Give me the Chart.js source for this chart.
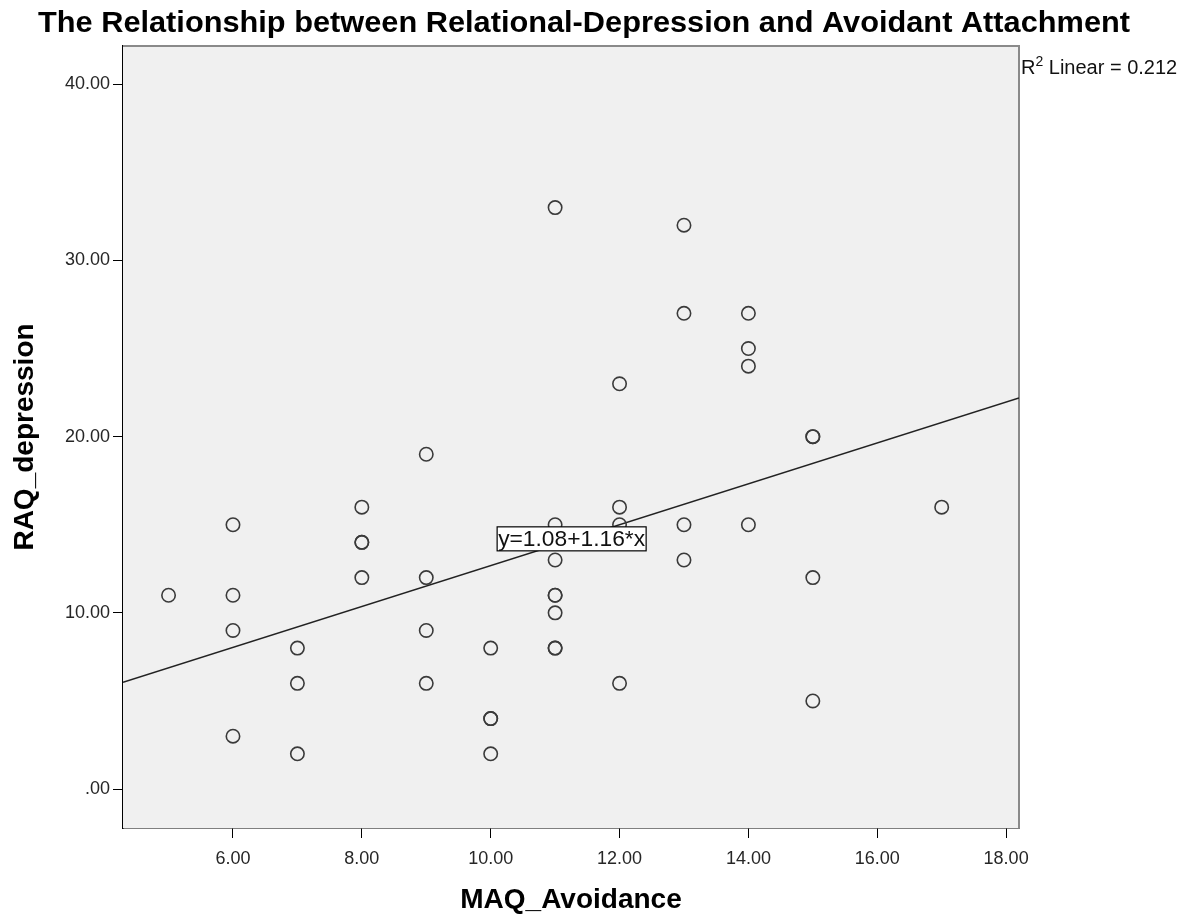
<!DOCTYPE html>
<html>
<head>
<meta charset="utf-8">
<script src="https://cdn.jsdelivr.net/npm/chart.js@4/dist/chart.umd.min.js"></script>
<style>
  html, body { margin: 0; padding: 0; background: #fff; }
  #wrap { width: 1200px; height: 919px; }
</style>
</head>
<body>
<div id="wrap"><canvas id="scatterChart" width="1200" height="919"></canvas></div>
<script>
// MAQ_Avoidance (x) vs RAQ_depression (y), one entry per respondent
const avoidance = [5, 6, 6, 6, 6, 7, 7, 7, 8, 8, 8, 8, 9, 9, 9, 9, 10, 10, 10, 10,
    11, 11, 11, 11, 11, 11, 11, 11, 12, 12, 12, 12, 13, 13, 13, 13, 14, 14, 14, 14,
    15, 15, 15, 15, 17];
const depression = [11, 15, 11, 9, 3, 8, 6, 2, 16, 14, 14, 12, 19, 12, 9, 6, 8, 4, 4, 2,
    33, 15, 13, 11, 11, 10, 8, 8, 23, 16, 15, 6, 32, 27, 15, 13, 27, 25, 24, 15,
    20, 20, 12, 5, 16];

// fit line as printed on the chart
const intercept = 1.08;
const slope = 1.16;
const rSquared = '0.212';

const xTickValues = [6, 8, 10, 12, 14, 16, 18];
const xTickLabels = ['6.00', '8.00', '10.00', '12.00', '14.00', '16.00', '18.00'];
const yTickValues = [0, 10, 20, 30, 40];
const yTickLabels = ['.00', '10.00', '20.00', '30.00', '40.00'];

const X_MIN = 4.293, X_MAX = 18.2;
const Y_MIN = -2.21, Y_MAX = 42.17;

const points = avoidance.map((x, i) => ({ x: x, y: depression[i] }));
const fitLine = [X_MIN, X_MAX].map(x => ({ x: x, y: intercept + slope * x }));

const FONT = '"Liberation Sans", Arial, sans-serif';

// plot background + grey top/right frame
const frame = {
    id: 'frame',
    beforeDatasetsDraw(chart) {
        const { ctx, chartArea: a } = chart;
        ctx.save();
        ctx.fillStyle = '#f0f0f0';
        ctx.fillRect(a.left, a.top, a.right - a.left, a.bottom - a.top);
        ctx.strokeStyle = '#8a8a8a';
        ctx.lineWidth = 2;
        ctx.beginPath();
        ctx.moveTo(a.left, a.top);
        ctx.lineTo(a.right, a.top);
        ctx.lineTo(a.right, a.bottom);
        ctx.stroke();
        ctx.restore();
    }
};

// title, R² note and the equation box
const labels = {
    id: 'labels',
    afterDraw(chart) {
        const { ctx, scales } = chart;
        ctx.save();
        // title (SPSS uses a narrow-ish bold face, so squeeze to width)
        ctx.fillStyle = '#000';
        ctx.font = 'bold 30px ' + FONT;
        ctx.textBaseline = 'alphabetic';
        ctx.textAlign = 'center';
        const title = 'The Relationship between Relational-Depression and Avoidant Attachment';
        const tw = ctx.measureText(title).width;
        ctx.save();
        ctx.translate(584, 32);
        ctx.scale(1092 / tw, 1);
        ctx.fillText(title, 0, 0);
        ctx.restore();

        // R² Linear
        ctx.textAlign = 'left';
        ctx.fillStyle = '#111';
        let x = 1021;
        ctx.font = '20px ' + FONT;
        ctx.fillText('R', x, 74);
        x += ctx.measureText('R').width;
        ctx.font = '14px ' + FONT;
        ctx.fillText('2', x, 66);
        x += ctx.measureText('2').width;
        ctx.font = '20px ' + FONT;
        ctx.fillText(' Linear = ' + rSquared, x, 74);

        // equation box
        const bx = scales.x.getPixelForValue(10.1);
        const by = scales.y.getPixelForValue(14.2);
        const eq = 'y=' + intercept.toFixed(2) + '+' + slope.toFixed(2) + '*x';
        const bw = 149, bh = 24;
        ctx.fillStyle = '#fff';
        ctx.fillRect(bx, by - bh / 2, bw, bh);
        ctx.strokeStyle = '#000';
        ctx.lineWidth = 1.2;
        ctx.strokeRect(bx, by - bh / 2, bw, bh);
        ctx.font = '22px ' + FONT;
        ctx.fillStyle = '#111';
        ctx.textBaseline = 'middle';
        const ew = ctx.measureText(eq).width;
        ctx.save();
        ctx.translate(bx + 1, by + 1);
        ctx.scale((bw - 2) / ew, 1);
        ctx.fillText(eq, 0, 0);
        ctx.restore();
        ctx.restore();
    }
};

const ctx = document.getElementById('scatterChart').getContext('2d');
new Chart(ctx, {
    type: 'scatter',
    data: {
        datasets: [
            {
                label: 'RAQ_depression',
                data: points,
                pointStyle: 'circle',
                pointRadius: 6.7,
                pointBorderWidth: 1.6,
                pointBackgroundColor: 'rgba(0,0,0,0)',
                pointBorderColor: '#3a3a3a',
                showLine: false
            },
            {
                type: 'line',
                label: 'Linear',
                data: fitLine,
                borderColor: '#222',
                borderWidth: 1.6,
                pointRadius: 0,
                fill: false
            }
        ]
    },
    options: {
        responsive: false,
        animation: false,
        layout: { padding: { top: 46, right: 181, left: 0, bottom: 0 } },
        plugins: {
            legend: { display: false },
            tooltip: { enabled: false },
            title: { display: false }
        },
        scales: {
            x: {
                type: 'linear',
                min: X_MIN,
                max: X_MAX,
                afterFit(scale) { scale.height = 91; },
                afterBuildTicks(scale) { scale.ticks = xTickValues.map(v => ({ value: v })); },
                ticks: {
                    color: '#262626',
                    font: { family: FONT, size: 18 },
                    padding: 10,
                    maxRotation: 0,
                    callback: (v, i) => xTickLabels[i]
                },
                grid: { drawOnChartArea: false, drawTicks: true, tickLength: 10, color: '#000', lineWidth: 1 },
                border: { display: true, color: '#000', width: 1.5 },
                title: {
                    display: true,
                    text: 'MAQ_Avoidance',
                    color: '#000',
                    font: { family: FONT, size: 28, weight: 'bold' },
                    padding: { top: 0, bottom: 2 }
                }
            },
            y: {
                type: 'linear',
                min: Y_MIN,
                max: Y_MAX,
                afterFit(scale) { scale.width = 123; },
                afterBuildTicks(scale) { scale.ticks = yTickValues.map(v => ({ value: v })); },
                ticks: {
                    color: '#262626',
                    font: { family: FONT, size: 18 },
                    padding: 3,
                    callback: (v, i) => yTickLabels[i]
                },
                grid: { drawOnChartArea: false, drawTicks: true, tickLength: 10, color: '#000', lineWidth: 1 },
                border: { display: true, color: '#000', width: 1.5 },
                title: {
                    display: true,
                    text: 'RAQ_depression',
                    color: '#000',
                    font: { family: FONT, size: 28, weight: 'bold' },
                    padding: { top: 8, bottom: 0 }
                }
            }
        }
    },
    plugins: [frame, labels]
});
</script>
</body>
</html>
